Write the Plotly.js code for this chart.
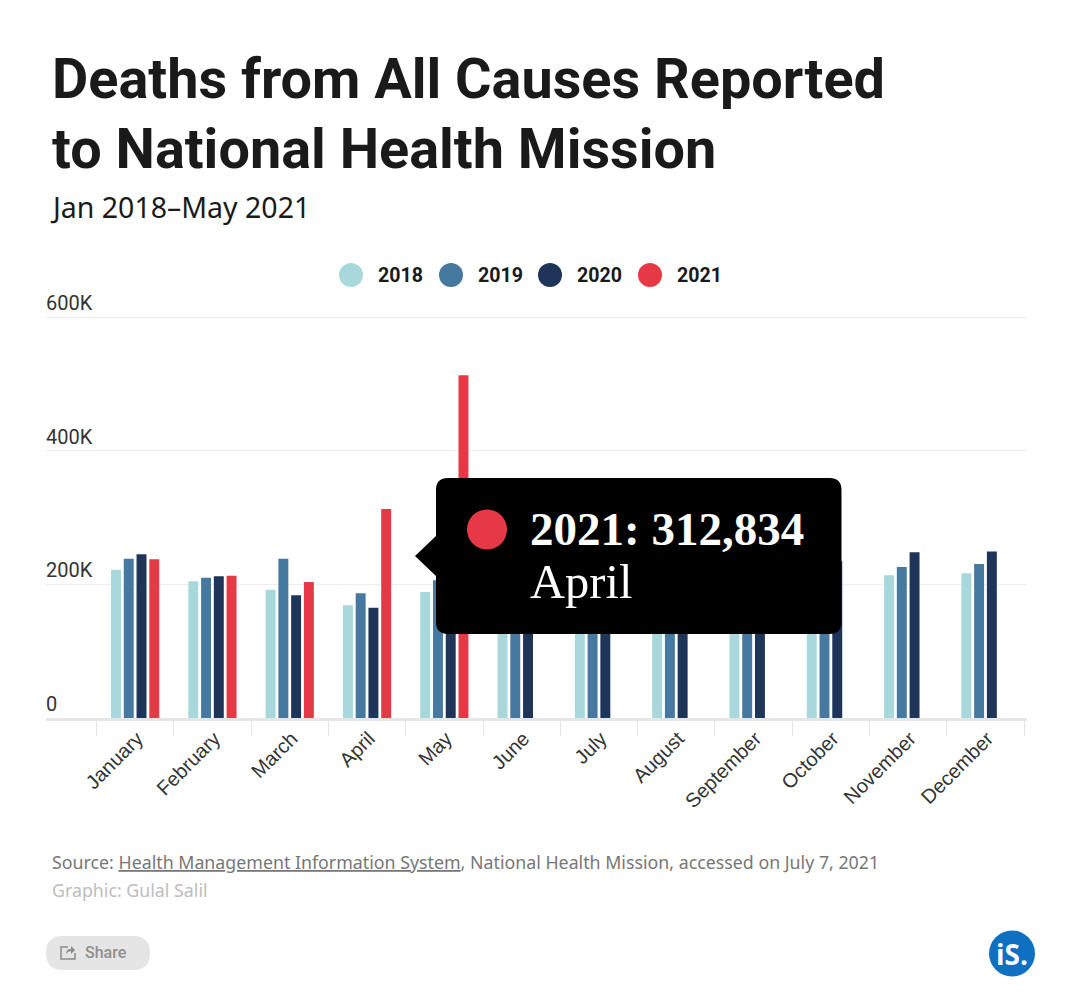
<!DOCTYPE html>
<html><head><meta charset="utf-8">
<script src="https://cdn.plot.ly/plotly-3.0.1.min.js"></script>
<style>html,body{margin:0;padding:0;background:#fff}#c{width:1079px;height:999px}</style>
</head><body><div id="c"></div>
<script>
const months=['January','February','March','April','May','June','July','August','September','October','November','December'];
const years=['2018','2019','2020','2021'];
const colors=['#a8d8db','#46799f','#1e3559','#e63946'];
const v2018=[222000,204500,192000,168600,188500,190000,188000,196000,198000,204000,213500,216500];
const v2019=[238500,210000,238500,186600,206000,200000,202000,204000,200000,212000,226000,230500];
const v2020=[245000,212000,183600,165000,192000,196000,210000,214000,222000,235000,248000,249000];
const v2021=[237500,213000,203500,312834,513000,null,null,null,null,null,null,null];
const series=[v2018,v2019,v2020,v2021];
const yTicks=[0,200000,400000,600000];
const yLabels=['0','200K','400K','600K'];
const W=1079,H=999,mL=46,mR=52,mT=285,mB=281;
const px=x=>(x-mL)/(W-mL-mR), py=y=>1-(y-mT)/(H-mT-mB);
const traces=series.map((s,i)=>({type:'bar',name:years[i],x:months,y:s,marker:{color:colors[i]},
  showlegend:false,hovertemplate:'%{fullData.name}: %{y:,}<br>%{x}<extra></extra>'}));
function note(x,y,text,size,color,family,extra){return Object.assign({xref:'paper',yref:'paper',x:px(x-2.5),y:py(y),text:text,showarrow:false,
  xanchor:'left',yanchor:'middle',align:'left',font:{size:size,color:color,family:family}},extra||{});}
function P(d){return d.replace(/(-?[\d.]+),(-?[\d.]+)/g,(m,a,b)=>px(+a)+','+py(+b));}
function circle(cx,cy,r,color){return {type:'circle',xref:'paper',yref:'paper',x0:px(cx-r),x1:px(cx+r),y0:py(cy+r),y1:py(cy-r),fillcolor:color,line:{width:0},layer:'above'};}
function path(d,fill,line){return {type:'path',xref:'paper',yref:'paper',path:P(d),fillcolor:fill,line:line||{width:0},layer:'above'};}
const titleFont='Roboto', bodyFont='"Noto Sans"';
const legendX=[351,451,550,650];
const shapes=[], annotations=[];
years.forEach((y,i)=>{shapes.push(circle(legendX[i],275,12,colors[i]));
  annotations.push(note(legendX[i]+27.5,275,'<b>'+y+'</b>',19.6,'#1a1a1a','Roboto'));});
// tooltip
shapes.push(path('M 448,478 L 829.5,478 Q 841.5,478 841.5,490 L 841.5,622 Q 841.5,634 829.5,634 L 448,634 Q 436,634 436,622 L 436,576 L 415,556 L 436,536 L 436,490 Q 436,478 448,478 Z','#000000'));
shapes.push(circle(487,529.5,20,colors[3]));
annotations.push(note(530,529,'<b>2021: 312,834</b>',47,'#ffffff','"Liberation Serif"'));
annotations.push(note(530,581,'April',48.5,'#ffffff','"Liberation Serif"'));
// headings
annotations.push(note(52,79,'<b>Deaths from All Causes Reported</b>',55.8,'#1a1a1a',titleFont));
annotations.push(note(52,149,'<b>to National Health Mission</b>',55.8,'#1a1a1a',titleFont));
annotations.push(note(50,207,'Jan 2018–May 2021',28.5,'#1a1a1a',bodyFont));
annotations.push(note(52,862,'Source: <span style="text-decoration:underline">Health Management Information System</span>, National Health Mission, accessed on July 7, 2021',17.8,'#777777',bodyFont));
annotations.push(note(52,890,'Graphic: Gulal Salil',17.8,'#bdbdbd',bodyFont));
// share pill
shapes.push(path('M 63,936 L 133,936 Q 150,936 150,953 Q 150,970 133,970 L 63,970 Q 46,970 46,953 Q 46,936 63,936 Z','#e5e5e5'));
shapes.push(path('M 68,947 L 61,947 L 61,959 L 75,959 L 75,953','rgba(0,0,0,0)',{width:1.5,color:'#8c8c8c'}));
shapes.push(path('M 66,954 Q 66,949 71,949 L 71,946 L 75,950 L 71,954 L 71,951 Q 68,951 66,954 Z','#8c8c8c'));
annotations.push(note(85,952,'Share',16,'#8f8f8f','Roboto',{font:{size:16,color:'#8f8f8f',family:'Roboto',weight:500}}));
// logo
shapes.push(circle(1012,953.5,23,'#0f6fc1'));
annotations.push(note(1012,953.5,'<b>iS.</b>',28,'#ffffff','"Open Sans"',{x:px(1012),xanchor:'center',align:'center'}));
const layout={width:W,height:H,margin:{l:mL,r:mR,t:mT,b:mB,pad:0},paper_bgcolor:'#fff',plot_bgcolor:'#fff',showlegend:false,
  barmode:'group',bargap:0.34,bargroupgap:0.22,
  xaxis:{type:'category',range:[-1.153,11.537],categoryorder:'array',categoryarray:months,tickson:'boundaries',ticks:'outside',ticklen:15,tickwidth:1,tickcolor:'#e6e6e6',
    showline:true,linecolor:'#e6e6e6',linewidth:3,showgrid:false,tickangle:-45,ticklabelshift:2,ticklabelstandoff:-2,tickfont:{family:'"Liberation Sans"',size:20,color:'#333333'}},
  yaxis:{range:[0,648000],tickvals:yTicks,ticktext:yLabels,ticklabelposition:'inside',ticklabelshift:-14,ticklabelstandoff:-3,ticks:'',showgrid:true,gridcolor:'#eeeeee',gridwidth:1,zeroline:false,showline:false,
    tickfont:{family:'Roboto',size:20,color:'#333333'}},
  shapes:shapes,annotations:annotations};
Plotly.newPlot('c',traces,layout,{displayModeBar:false,responsive:false});
</script></body></html>
